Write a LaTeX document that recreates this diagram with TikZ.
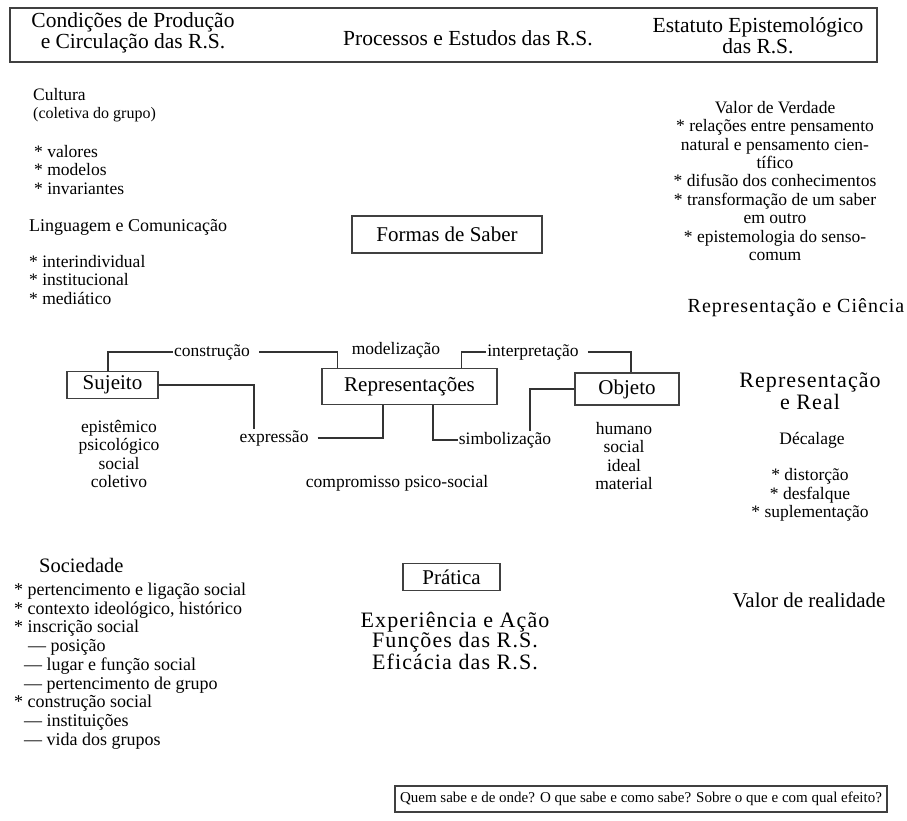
\documentclass[tikz,border=0pt]{standalone}
\usepackage{fontspec}
\setmainfont{Liberation Serif}
\newfontfamily\espacada[LetterSpace=5]{Liberation Serif}
\usepackage{tikz}

\newcommand\tamG{\fontsize{21}{21}\selectfont}
\newcommand\tamM{\fontsize{17.5}{18.6}\selectfont}
\newcommand\tamP{\fontsize{15}{17}\selectfont}

\tikzset{
  caixa/.style={draw=black!75, line width=1.4pt, inner sep=0pt, font=\tamG},
  liga/.style={draw=black!80, line width=1.4pt},
  rot/.style={font=\tamM, inner sep=1pt},
}

\begin{document}
\begin{tikzpicture}[x=1pt,y=-1pt]
\path[fill=white, use as bounding box] (0,0) rectangle (907,821);

% ========= topo: as tres colunas =========
\node[caixa, line width=1.2pt, minimum width=867pt, minimum height=54pt] (topo) at (443.5,35) {};
\node[font=\fontsize{21.5}{21}\selectfont, align=center] (condicoes) at (133,33) {Condições de Produção\\e Circulação das R.S.};
\node[font=\fontsize{21.5}{21}\selectfont] (processos) at (468,38) {Processos e Estudos das R.S.};
\node[font=\fontsize{21.5}{21}\selectfont, align=center] (estatuto) at (758,36) {Estatuto Epistemológico\\das R.S.};

% ========= esquerda: cultura e linguagem =========
\node[rot, inner sep=0pt, anchor=west] (cultura) at (33,95) {Cultura};
\node[rot, inner sep=0pt, font=\fontsize{16}{17}\selectfont, anchor=west] (coletiva) at (33,115) {(coletiva do grupo)};
\node[rot, anchor=west, align=left] (cultitens) at (33,170) {* valores\\* modelos\\* invariantes};
\node[rot, font=\fontsize{18}{19}\selectfont, anchor=west] (linguagem) at (28,227) {Linguagem e Comunicação};
\node[rot, anchor=west, align=left] (lingitens) at (28,280) {* interindividual\\* institucional\\* mediático};

% ========= direita: valor de verdade =========
\node[rot, font=\fontsize{17.5}{18.4}\selectfont, align=center] (verdade) at (775,181) {Valor de Verdade\\* relações entre pensamento\\natural e pensamento cien-\\tífico\\* difusão dos conhecimentos\\* transformação de um saber\\em outro\\* epistemologia do senso-\\comum};
\node[font=\espacada\fontsize{20}{20}\selectfont] (ciencia) at (796,308) {Representação e Ciência};

% ========= centro =========
\node[caixa, minimum width=190pt, minimum height=37pt] (formas) at (447,234.5) {Formas de Saber};

\node[caixa, minimum width=91pt, minimum height=27pt] (sujeito) at (112.5,385) {Sujeito};
\node[caixa, minimum width=175pt, minimum height=36pt] (repres) at (409.5,386.5) {Representações};
\node[caixa, minimum width=104pt, minimum height=32pt] (objeto) at (627,389) {Objeto};

\node[rot] (construcao) at (212,352) {construção};
\node[rot] (modelizacao) at (396,350) {modelização};
\node[rot] (interpretacao) at (533,352) {interpretação};
\node[rot] (expressao) at (274,438) {expressão};
\node[rot] (simbolizacao) at (505,440) {simbolização};

\draw[liga] ([xshift=-4.5pt]sujeito.north) |- (construcao.west);
\draw[liga, shorten <=8pt] (construcao.east) -| ([xshift=16pt]repres.north west);
\draw[liga] ([xshift=-36pt]repres.north east) |- (interpretacao.west);
\draw[liga, shorten <=8pt] (interpretacao.east) -| ([xshift=4pt]objeto.north);
\draw[liga] (sujeito.east) -| ([xshift=-20pt]expressao.north);
\draw[liga, shorten <=8pt] (expressao.east) -| ([xshift=-26.5pt]repres.south);
\draw[liga] ([xshift=23.5pt]repres.south) |- (simbolizacao.west);
\draw[liga] (objeto.west) -| ([xshift=25pt]simbolizacao.north);

\node[rot, align=center] (sujdesc) at (119,454) {epistêmico\\psicológico\\social\\coletivo};
\node[rot] (compromisso) at (397,483) {compromisso psico-social};
\node[rot, align=center] (objdesc) at (624,456) {humano\\social\\ideal\\material};

% ========= direita: representacao e real =========
\node[font=\espacada\fontsize{22}{22}\selectfont, align=center] (real) at (810,391) {Representação\\e Real};
\node[rot] (decalage) at (812,440) {Décalage};
\node[rot, align=center] (decitens) at (810,495) {* distorção\\* desfalque\\* suplementação};

% ========= baixo: sociedade e pratica =========
\node[rot, font=\fontsize{20.5}{21}\selectfont, anchor=west] (sociedade) at (38,565) {Sociedade};
\node[rot, font=\fontsize{18}{18.75}\selectfont, anchor=west, align=left] (socitens) at (13,666) {* pertencimento e ligação social\\* contexto ideológico, histórico\\* inscrição social\\\hspace*{14pt}— posição\\\hspace*{10pt}— lugar e função social\\\hspace*{10pt}— pertencimento de grupo\\* construção social\\\hspace*{10pt}— instituições\\\hspace*{10pt}— vida dos grupos};

\node[caixa, minimum width=97pt, minimum height=27pt] (pratica) at (451.5,577) {Prática};
\node[font=\espacada\fontsize{22}{20}\selectfont, align=center] (experiencia) at (455,641) {Experiência e Ação\\Funções das R.S.\\Eficácia das R.S.};
\node[font=\fontsize{21}{21}\selectfont] (realidade) at (809,600) {Valor de realidade};

% ========= pergunta final =========
\node[caixa, line width=1.2pt, font=\tamP, minimum width=492pt, minimum height=26pt] (pergunta) at (641,799) {Quem sabe e de onde? O que sabe e como sabe? Sobre o que e com qual efeito?};
\end{tikzpicture}
\end{document}
